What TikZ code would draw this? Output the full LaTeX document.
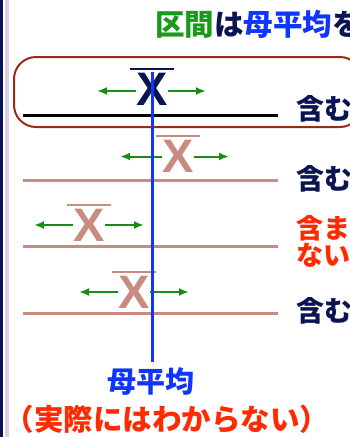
\documentclass[tikz,border=0pt]{standalone}
\usepackage{fontspec}
\setmainfont{Liberation Sans}
\newfontfamily\jp{Noto Sans CJK JP}
\usetikzlibrary{arrows.meta}
\definecolor{navy}{HTML}{0B1452}
\definecolor{rosy}{HTML}{C98A80}
\definecolor{ggreen}{HTML}{178C17}
\definecolor{tgreen}{HTML}{1A9A1A}
\definecolor{mblue}{HTML}{1035FF}
\definecolor{ered}{HTML}{FF2A00}
\definecolor{frame}{HTML}{9B2A1A}
\definecolor{lav}{HTML}{D8D0E8}
\tikzset{
  xmark/.style={inner sep=0pt, font=\fontsize{47}{47}\selectfont\bfseries},
  obar/.style={line width=2pt},
  garrow/.style={draw=ggreen, line width=2pt, -{Latex[length=10pt,width=8pt]}},
  ivline/.style={line width=3pt},
  jlabel/.style={inner sep=0pt, anchor=base west, font=\jp\bfseries\fontsize{28}{28}\selectfont},
}
\begin{document}
\begin{tikzpicture}[x=1pt,y=-1pt]
\useasboundingbox (0,0) rectangle (350,437);
\clip (0,0) rectangle (350,437);
\fill[white] (0,0) rectangle (350,437);
% left bars
\fill[navy] (0,0) rectangle (2.5,437);
\fill[lav] (5,0) rectangle (8.5,437);
% title
\node[jlabel, font=\jp\bfseries\fontsize{29.5}{29.5}\selectfont] (title) at (155,35) {\textcolor{tgreen}{区間}\textcolor{navy}{は}\textcolor{mblue}{母平均}\textcolor{navy}{を}};
% highlighted frame
\draw[frame, line width=2pt, rounded corners=22pt] (14,57) rectangle (362,127);
% row 1
\draw[ivline, black] (23,115) -- (278,115);
\node[xmark, text=navy] (x1) at (152,89) {X};
\draw[obar, navy] ([xshift=-6pt,yshift=4pt]x1.north west) -- ([xshift=6pt,yshift=4pt]x1.north east);
\coordinate (l1) at (97,91); \coordinate (r1) at (206,91);
\draw[garrow] (x1.west |- l1) -- (l1);
\draw[garrow] (x1.east |- r1) -- (r1);
\node[jlabel, text=navy] (c1) at (296,119) {含む};
% row 2
\draw[ivline, rosy] (23,180) -- (278,180);
\node[xmark, text=rosy] (x2) at (178,156.5) {X};
\draw[obar, rosy] ([xshift=-6pt,yshift=4pt]x2.north west) -- ([xshift=6pt,yshift=4pt]x2.north east);
\coordinate (l2) at (120,156.5); \coordinate (r2) at (229,156.5);
\draw[garrow] (x2.west) -- (l2);
\draw[garrow] (x2.east) -- (r2);
\node[jlabel, text=navy] (c2) at (296,189) {含む};
% row 3
\draw[ivline, rosy] (23,246.5) -- (278,246.5);
\node[xmark, text=rosy] (x3) at (89,225) {X};
\draw[obar, rosy] ([xshift=-6pt,yshift=4pt]x3.north west) -- ([xshift=6pt,yshift=4pt]x3.north east);
\coordinate (l3) at (34,225); \coordinate (r3) at (144,225);
\draw[garrow] (x3.west) -- (l3);
\draw[garrow] (x3.east) -- (r3);
\node[jlabel, text=ered, font=\jp\bfseries\fontsize{27}{27}\selectfont, anchor=north west, align=left] (c3) at (296,215) {含ま\\ない};
% row 4
\draw[ivline, rosy] (23,313) -- (278,313);
\node[xmark, text=rosy] (x4) at (134,292) {X};
\draw[obar, rosy] ([xshift=-6pt,yshift=4pt]x4.north west) -- ([xshift=6pt,yshift=4pt]x4.north east);
\coordinate (l4) at (79,292); \coordinate (r4) at (189,292);
\draw[garrow] (x4.west) -- (l4);
\draw[garrow] (x4.east) -- (r4);
\node[jlabel, text=navy] (c4) at (296,321) {含む};
% population mean
\node[inner sep=0pt, text=mblue, font=\jp\bfseries\fontsize{29}{29}\selectfont] (mu) at (151,382) {母平均};
\coordinate (top) at (152,72);
\coordinate (bot) at ([yshift=6pt]mu.north);
\draw[mblue, line width=3pt] (top) -- (top |- bot);
\node[inner sep=0pt, text=ered, font=\jp\bfseries\fontsize{29.5}{29.5}\selectfont] (note) at (167,419) {（実際にはわからない）};
\end{tikzpicture}
\end{document}
